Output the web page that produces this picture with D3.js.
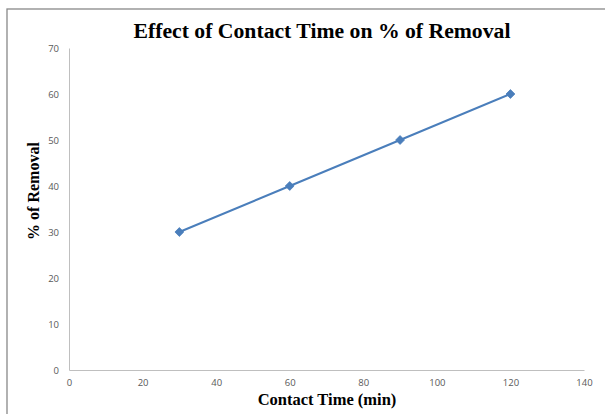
<!DOCTYPE html>
<html><head><meta charset="utf-8">
<script src="https://cdn.jsdelivr.net/npm/d3@7"></script>
<style>body{margin:0;background:#fff;}svg{display:block;}</style>
</head><body>
<script>
const contactTime = [30, 60, 90, 120];
const removal = [30, 40, 50, 60];
const xTicks = [0, 20, 40, 60, 80, 100, 120, 140];
const yTicks = [0, 10, 20, 30, 40, 50, 60, 70];
const titleText = "Effect of Contact Time on % of Removal";
const xTitle = "Contact Time (min)";
const yTitle = "% of Removal";

const W = 605, H = 414;
const svg = d3.select("body").append("svg").attr("width", W).attr("height", H);
svg.append("rect").attr("x", 7).attr("y", 9).attr("width", 610).attr("height", 420)
  .attr("fill", "#fff").attr("stroke", "#898989").attr("stroke-width", 1.3);

const x = d3.scaleLinear().domain([0, 140]).range([69, 584]);
const y = d3.scaleLinear().domain([0, 70]).range([370, 48]);

const tickFont = "'Open Sans', sans-serif";
const xAxis = svg.append("g").attr("transform", `translate(0,${y(0)})`)
  .call(d3.axisBottom(x).tickValues(xTicks).tickSize(0).tickPadding(9).tickFormat(d3.format("d")));
const yAxis = svg.append("g").attr("transform", `translate(${x(0)},0)`)
  .call(d3.axisLeft(y).tickValues(yTicks).tickSize(0).tickPadding(10).tickFormat(d3.format("d")));
[xAxis, yAxis].forEach(g => {
  g.select(".domain").attr("stroke", "#bfbfbf").attr("stroke-width", 1);
  g.selectAll("text").attr("font-family", tickFont).attr("font-size", 9.5).attr("fill", "#595959");
});

const line = d3.line().x((d, i) => x(contactTime[i])).y(d => y(d));
svg.append("path").datum(removal).attr("d", line)
  .attr("fill", "none").attr("stroke", "#4a7ebb").attr("stroke-width", 2);
svg.selectAll(".pt").data(removal).enter().append("path")
  .attr("transform", (d, i) => `translate(${x(contactTime[i])},${y(d)})`)
  .attr("d", d3.symbol().type(d3.symbolDiamond2).size(50))
  .attr("fill", "#4a7ebb").attr("stroke", "#4a7ebb").attr("stroke-width", 0.8);

svg.append("text").attr("x", 322).attr("y", 38).attr("text-anchor", "middle")
  .attr("font-family", "'Liberation Serif', serif").attr("font-weight", "bold")
  .attr("font-size", 21.7).attr("fill", "#000").text(titleText);
svg.append("text").attr("x", 327).attr("y", 405).attr("text-anchor", "middle")
  .attr("font-family", "'Liberation Serif', serif").attr("font-weight", "bold")
  .attr("font-size", 16.5).attr("fill", "#000").text(xTitle);
svg.append("text").attr("transform", "translate(39,191) rotate(-90)").attr("text-anchor", "middle")
  .attr("font-family", "'Liberation Serif', serif").attr("font-weight", "bold")
  .attr("font-size", 16).attr("fill", "#000").text(yTitle);
</script>
</body></html>
